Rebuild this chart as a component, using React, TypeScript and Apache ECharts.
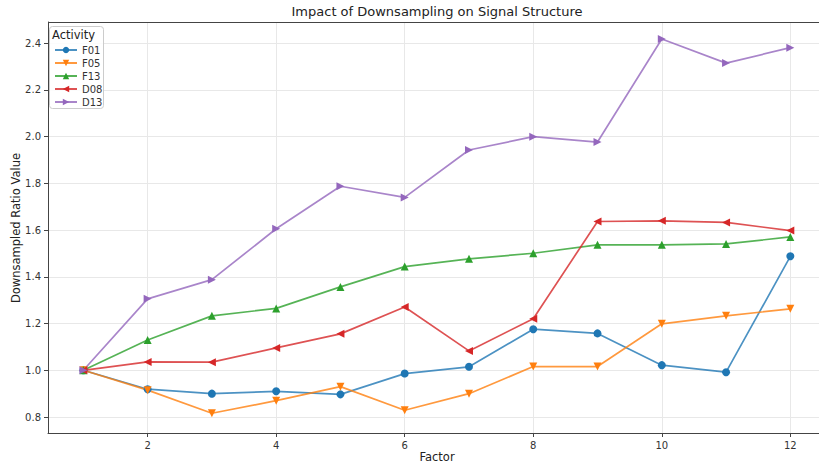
import React, { useEffect, useRef } from "react";
import * as echarts from "echarts";

const factors = [1, 2, 3, 4, 5, 6, 7, 8, 9, 10, 11, 12];
const f01 = [1.0, 0.919, 0.9, 0.91, 0.897, 0.986, 1.015, 1.176, 1.158, 1.022, 0.992, 1.488];
const f05 = [1.0, 0.915, 0.816, 0.87, 0.93, 0.829, 0.9, 1.016, 1.016, 1.199, 1.233, 1.263];
const f13 = [1.0, 1.13, 1.233, 1.265, 1.357, 1.444, 1.477, 1.501, 1.537, 1.537, 1.541, 1.571];
const d08 = [1.0, 1.036, 1.035, 1.096, 1.156, 1.271, 1.083, 1.221, 1.637, 1.64, 1.633, 1.598];
const d13 = [1.0, 1.306, 1.388, 1.606, 1.788, 1.74, 1.943, 2.0, 1.977, 2.418, 2.315, 2.381];

const seriesNames = ["F01", "F05", "F13", "D08", "D13"];
const seriesValues = [f01, f05, f13, d08, d13];
const colors = ["#1f77b4", "#ff7f0e", "#2ca02c", "#d62728", "#9467bd"];
const symbols = ["circle", "triangle", "triangle", "triangle", "triangle"];
const rotations = [0, 180, 0, 90, -90];

const FONT = "DejaVu Sans";

export default function App() {
  const ref = useRef<HTMLDivElement>(null);
  useEffect(() => {
    if (!ref.current) return;
    const chart = echarts.init(ref.current, null, { renderer: "svg" });
    const series = seriesNames.map((name, i) => ({
      name,
      type: "line",
      data: factors.map((f, j) => [f, seriesValues[i][j]]),
      symbol: symbols[i],
      symbolSize: 8,
      symbolRotate: rotations[i],
      showSymbol: true,
      lineStyle: { width: 1.7, color: colors[i], opacity: 0.8 },
      itemStyle: { color: colors[i], opacity: 1 },
      z: 2,
    }));
    chart.setOption({
      animation: false,
      backgroundColor: "#ffffff",
      textStyle: { fontFamily: FONT },
      grid: { left: 48, top: 22, right: 0, height: 411, show: false, containLabel: false },
      xAxis: {
        type: "value",
        min: 0.45,
        max: 12.446,
        splitNumber: 5,
        axisLine: { show: true, lineStyle: { color: "#444" } },
        axisTick: { show: true, length: 4, lineStyle: { color: "#444" } },
        axisLabel: { showMinLabel: false, showMaxLabel: false, color: "#333", fontSize: 10, margin: 7, fontFamily: FONT },
        splitLine: { show: true, lineStyle: { color: "#e8e8e8", width: 1 } },
      },
      yAxis: {
        type: "value",
        min: 0.7316,
        max: 2.491,
        splitNumber: 8,
        axisLine: { show: true, lineStyle: { color: "#444" } },
        axisTick: { show: true, length: 4, lineStyle: { color: "#444" } },
        axisLabel: {
          showMinLabel: false,
          showMaxLabel: false,
          color: "#333",
          fontSize: 10,
          margin: 7,
          fontFamily: FONT,
          formatter: (v: number) => v.toFixed(1),
        },
        splitLine: { show: true, lineStyle: { color: "#e8e8e8", width: 1 } },
      },
      legend: {
        orient: "vertical",
        left: 49,
        top: 40,
        itemGap: 3,
        itemWidth: 22,
        itemHeight: 8,
        data: seriesNames,
        textStyle: { fontSize: 10, color: "#333", fontFamily: FONT },
        z: 5,
      },
      graphic: [
        { type: "line", z: 3, shape: { x1: 48, y1: 22.5, x2: 819, y2: 22.5 }, style: { stroke: "#444", lineWidth: 1 } },
        { type: "rect", z: 4, shape: { x: 49.5, y: 26.5, width: 54, height: 82, r: 3 }, style: { fill: "rgba(255,255,255,0.85)", stroke: "#cccccc", lineWidth: 1 } },
        { type: "text", z: 5, x: 52, y: 29, style: { text: "Activity", fontSize: 11.5, fill: "#222", fontFamily: FONT } },
        { type: "text", x: 437, y: 5, style: { text: "Impact of Downsampling on Signal Structure", fontSize: 13, fill: "#222", fontFamily: FONT, textAlign: "center" } },
        { type: "text", x: 437, y: 451, style: { text: "Factor", fontSize: 11.5, fill: "#222", fontFamily: FONT, textAlign: "center" } },
        { type: "text", x: 16, y: 228, rotation: Math.PI / 2, style: { text: "Downsampled Ratio Value", fontSize: 11.5, fill: "#222", fontFamily: FONT, textAlign: "center", textVerticalAlign: "middle" } },
      ],
      series,
    });
    return () => chart.dispose();
  }, []);
  return <div ref={ref} style={{ width: 819, height: 468, position: "fixed", left: 0, top: 0 }} />;
}
